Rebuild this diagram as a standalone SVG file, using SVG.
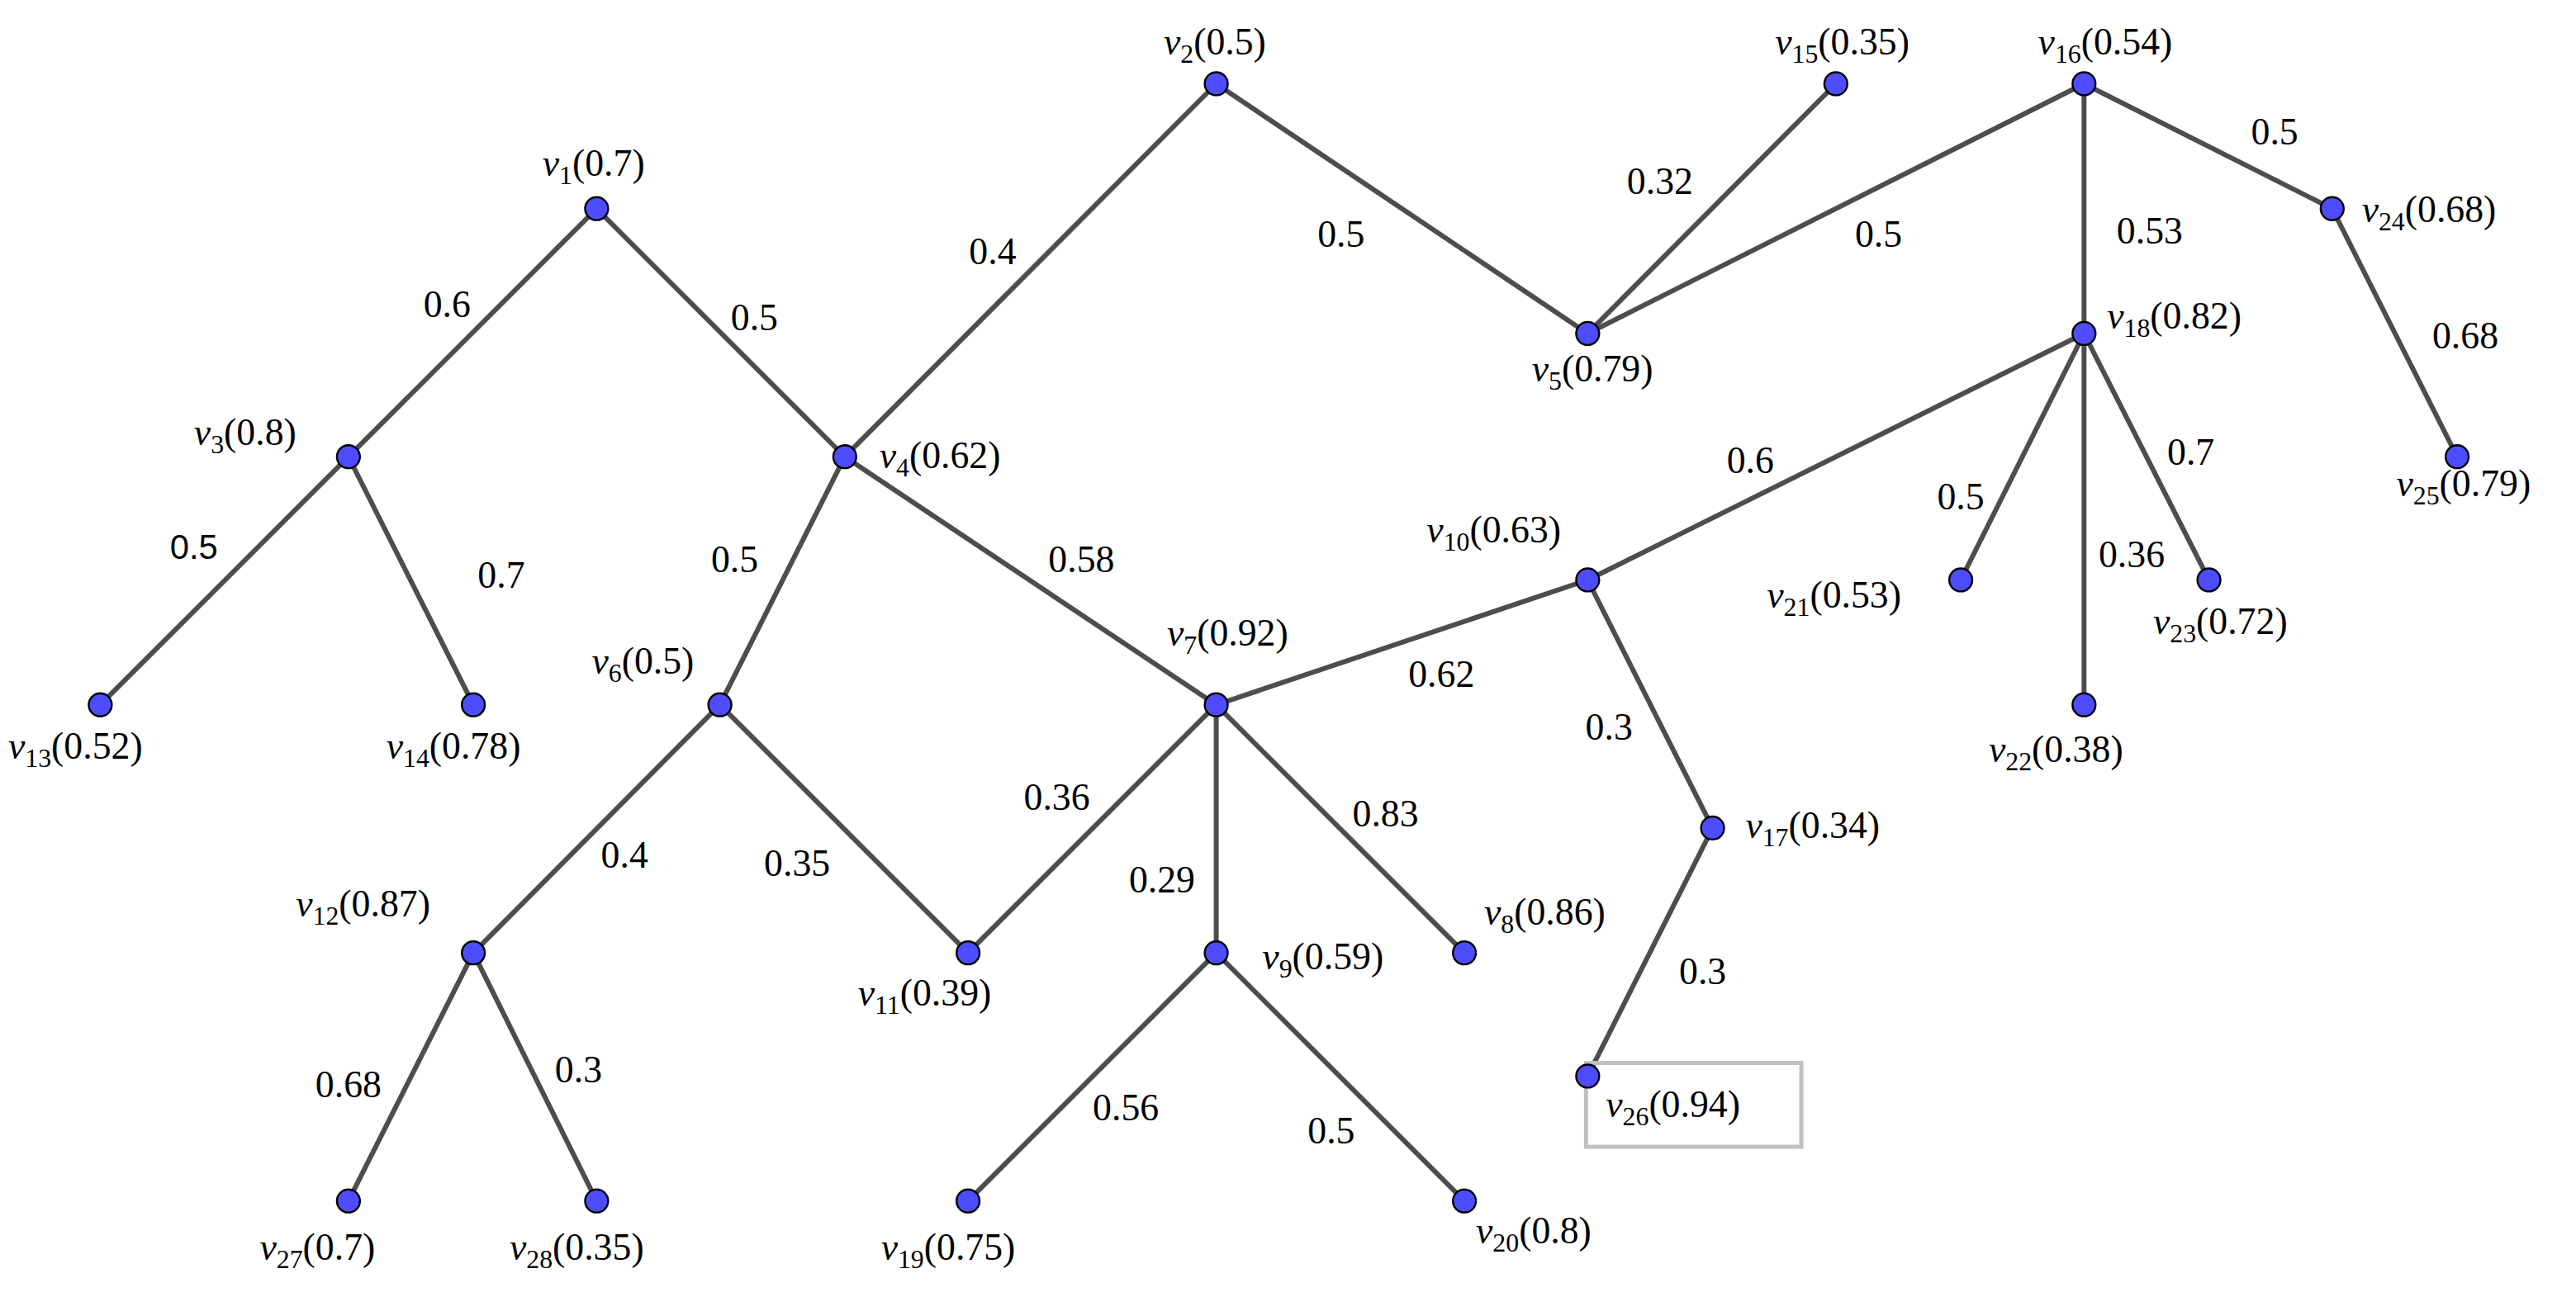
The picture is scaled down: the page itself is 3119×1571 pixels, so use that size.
<svg xmlns="http://www.w3.org/2000/svg" width="3119" height="1571" viewBox="0 0 3119 1571">
<style>
.e{stroke:#4d4d4d;stroke-width:3;fill:none}
.n{fill:#4d4dff;stroke:#000;stroke-width:1.2}
text{font-family:"Liberation Serif","DejaVu Serif",serif;font-size:23px;fill:#000}
.v{font-style:italic}
.s{font-size:16px}
.w{font-family:"Liberation Sans",sans-serif;font-size:21px}
</style>
<rect width="3119" height="1571" fill="#fff"/>
<g transform="scale(1.99)">
<g id="connectors">
<line class="e" x1="363" y1="127" x2="212" y2="278"/>
<line class="e" x1="363" y1="127" x2="514" y2="278"/>
<line class="e" x1="212" y1="278" x2="61" y2="429"/>
<line class="e" x1="212" y1="278" x2="288" y2="429"/>
<line class="e" x1="740" y1="51" x2="514" y2="278"/>
<line class="e" x1="740" y1="51" x2="966" y2="203"/>
<line class="e" x1="966" y1="203" x2="1117" y2="51"/>
<line class="e" x1="966" y1="203" x2="1268" y2="51"/>
<line class="e" x1="1268" y1="51" x2="1419" y2="127"/>
<line class="e" x1="1268" y1="51" x2="1268" y2="203"/>
<line class="e" x1="1419" y1="127" x2="1495" y2="278"/>
<line class="e" x1="514" y1="278" x2="438" y2="429"/>
<line class="e" x1="514" y1="278" x2="740" y2="429"/>
<line class="e" x1="1268" y1="203" x2="966" y2="353"/>
<line class="e" x1="1268" y1="203" x2="1193" y2="353"/>
<line class="e" x1="1268" y1="203" x2="1344" y2="353"/>
<line class="e" x1="1268" y1="203" x2="1268" y2="429"/>
<line class="e" x1="740" y1="429" x2="966" y2="353"/>
<line class="e" x1="966" y1="353" x2="1042" y2="504"/>
<line class="e" x1="1042" y1="504" x2="966" y2="655"/>
<line class="e" x1="438" y1="429" x2="288" y2="580"/>
<line class="e" x1="438" y1="429" x2="589" y2="580"/>
<line class="e" x1="740" y1="429" x2="589" y2="580"/>
<line class="e" x1="740" y1="429" x2="891" y2="580"/>
<line class="e" x1="740" y1="429" x2="740" y2="580"/>
<line class="e" x1="288" y1="580" x2="212" y2="731"/>
<line class="e" x1="288" y1="580" x2="363" y2="731"/>
<line class="e" x1="740" y1="580" x2="589" y2="731"/>
<line class="e" x1="740" y1="580" x2="891" y2="731"/>
<g text-anchor="middle">
<text x="272" y="193">0.6</text><text x="459" y="201">0.5</text>
<text class="w" x="118" y="340">0.5</text><text x="305" y="358">0.7</text>
<text x="604" y="161">0.4</text><text x="816" y="150">0.5</text>
<text x="1010" y="118">0.32</text><text x="1143" y="150">0.5</text>
<text x="1384" y="88">0.5</text><text x="1308" y="148">0.53</text>
<text x="1500" y="212">0.68</text><text x="447" y="348">0.5</text>
<text x="658" y="348">0.58</text><text x="1065" y="288">0.6</text>
<text x="1193" y="310">0.5</text><text x="1333" y="283">0.7</text>
<text x="1297" y="345">0.36</text><text x="877" y="418">0.62</text>
<text x="979" y="450">0.3</text><text x="380" y="528">0.4</text>
<text x="485" y="533">0.35</text><text x="643" y="493">0.36</text>
<text x="843" y="503">0.83</text><text x="707" y="543">0.29</text>
<text x="1036" y="599">0.3</text><text x="212" y="668">0.68</text>
<text x="352" y="659">0.3</text><text x="685" y="682">0.56</text>
<text x="810" y="696">0.5</text>
</g>
</g>
<g id="v1"><circle class="n" cx="363" cy="127" r="7"/><text x="330" y="107"><tspan class="v">v</tspan><tspan class="s" dy="5">1</tspan><tspan dy="-5">(0.7)</tspan></text></g>
<g id="v2"><circle class="n" cx="740" cy="51" r="7"/><text x="708" y="33"><tspan class="v">v</tspan><tspan class="s" dy="5">2</tspan><tspan dy="-5">(0.5)</tspan></text></g>
<g id="v3"><circle class="n" cx="212" cy="278" r="7"/><text x="118" y="271"><tspan class="v">v</tspan><tspan class="s" dy="5">3</tspan><tspan dy="-5">(0.8)</tspan></text></g>
<g id="v4"><circle class="n" cx="514" cy="278" r="7"/><text x="535" y="285"><tspan class="v">v</tspan><tspan class="s" dy="5">4</tspan><tspan dy="-5">(0.62)</tspan></text></g>
<g id="v5"><circle class="n" cx="966" cy="203" r="7"/><text x="932" y="232"><tspan class="v">v</tspan><tspan class="s" dy="5">5</tspan><tspan dy="-5">(0.79)</tspan></text></g>
<g id="v6"><circle class="n" cx="438" cy="429" r="7"/><text x="360" y="410"><tspan class="v">v</tspan><tspan class="s" dy="5">6</tspan><tspan dy="-5">(0.5)</tspan></text></g>
<g id="v7"><circle class="n" cx="740" cy="429" r="7"/><text x="710" y="393"><tspan class="v">v</tspan><tspan class="s" dy="5">7</tspan><tspan dy="-5">(0.92)</tspan></text></g>
<g id="v8"><circle class="n" cx="891" cy="580" r="7"/><text x="903" y="563"><tspan class="v">v</tspan><tspan class="s" dy="5">8</tspan><tspan dy="-5">(0.86)</tspan></text></g>
<g id="v9"><circle class="n" cx="740" cy="580" r="7"/><text x="768" y="590"><tspan class="v">v</tspan><tspan class="s" dy="5">9</tspan><tspan dy="-5">(0.59)</tspan></text></g>
<g id="v10"><circle class="n" cx="966" cy="353" r="7"/><text x="868" y="330"><tspan class="v">v</tspan><tspan class="s" dy="5">10</tspan><tspan dy="-5">(0.63)</tspan></text></g>
<g id="v11"><circle class="n" cx="589" cy="580" r="7"/><text x="522" y="612"><tspan class="v">v</tspan><tspan class="s" dy="5">11</tspan><tspan dy="-5">(0.39)</tspan></text></g>
<g id="v12"><circle class="n" cx="288" cy="580" r="7"/><text x="180" y="558"><tspan class="v">v</tspan><tspan class="s" dy="5">12</tspan><tspan dy="-5">(0.87)</tspan></text></g>
<g id="v13"><circle class="n" cx="61" cy="429" r="7"/><text x="5" y="462"><tspan class="v">v</tspan><tspan class="s" dy="5">13</tspan><tspan dy="-5">(0.52)</tspan></text></g>
<g id="v14"><circle class="n" cx="288" cy="429" r="7"/><text x="235" y="462"><tspan class="v">v</tspan><tspan class="s" dy="5">14</tspan><tspan dy="-5">(0.78)</tspan></text></g>
<g id="v15"><circle class="n" cx="1117" cy="51" r="7"/><text x="1080" y="33"><tspan class="v">v</tspan><tspan class="s" dy="5">15</tspan><tspan dy="-5">(0.35)</tspan></text></g>
<g id="v16"><circle class="n" cx="1268" cy="51" r="7"/><text x="1240" y="33"><tspan class="v">v</tspan><tspan class="s" dy="5">16</tspan><tspan dy="-5">(0.54)</tspan></text></g>
<g id="v17"><circle class="n" cx="1042" cy="504" r="7"/><text x="1062" y="510"><tspan class="v">v</tspan><tspan class="s" dy="5">17</tspan><tspan dy="-5">(0.34)</tspan></text></g>
<g id="v18"><circle class="n" cx="1268" cy="203" r="7"/><text x="1282" y="200"><tspan class="v">v</tspan><tspan class="s" dy="5">18</tspan><tspan dy="-5">(0.82)</tspan></text></g>
<g id="v19"><circle class="n" cx="589" cy="731" r="7"/><text x="536" y="767"><tspan class="v">v</tspan><tspan class="s" dy="5">19</tspan><tspan dy="-5">(0.75)</tspan></text></g>
<g id="v20"><circle class="n" cx="891" cy="731" r="7"/><text x="898" y="757"><tspan class="v">v</tspan><tspan class="s" dy="5">20</tspan><tspan dy="-5">(0.8)</tspan></text></g>
<g id="v21"><circle class="n" cx="1193" cy="353" r="7"/><text x="1075" y="370"><tspan class="v">v</tspan><tspan class="s" dy="5">21</tspan><tspan dy="-5">(0.53)</tspan></text></g>
<g id="v22"><circle class="n" cx="1268" cy="429" r="7"/><text x="1210" y="464"><tspan class="v">v</tspan><tspan class="s" dy="5">22</tspan><tspan dy="-5">(0.38)</tspan></text></g>
<g id="v23"><circle class="n" cx="1344" cy="353" r="7"/><text x="1310" y="386"><tspan class="v">v</tspan><tspan class="s" dy="5">23</tspan><tspan dy="-5">(0.72)</tspan></text></g>
<g id="v24"><circle class="n" cx="1419" cy="127" r="7"/><text x="1437" y="135"><tspan class="v">v</tspan><tspan class="s" dy="5">24</tspan><tspan dy="-5">(0.68)</tspan></text></g>
<g id="v25"><circle class="n" cx="1495" cy="278" r="7"/><text x="1458" y="302"><tspan class="v">v</tspan><tspan class="s" dy="5">25</tspan><tspan dy="-5">(0.79)</tspan></text></g>
<g id="v26"><rect x="965" y="647" width="131" height="51" fill="none" stroke="#c0c0c0" stroke-width="2.5"/><circle class="n" cx="966" cy="655" r="7"/><text x="977" y="680"><tspan class="v">v</tspan><tspan class="s" dy="5">26</tspan><tspan dy="-5">(0.94)</tspan></text></g>
<g id="v27"><circle class="n" cx="212" cy="731" r="7"/><text x="158" y="767"><tspan class="v">v</tspan><tspan class="s" dy="5">27</tspan><tspan dy="-5">(0.7)</tspan></text></g>
<g id="v28"><circle class="n" cx="363" cy="731" r="7"/><text x="310" y="767"><tspan class="v">v</tspan><tspan class="s" dy="5">28</tspan><tspan dy="-5">(0.35)</tspan></text></g>
</g>
</svg>
